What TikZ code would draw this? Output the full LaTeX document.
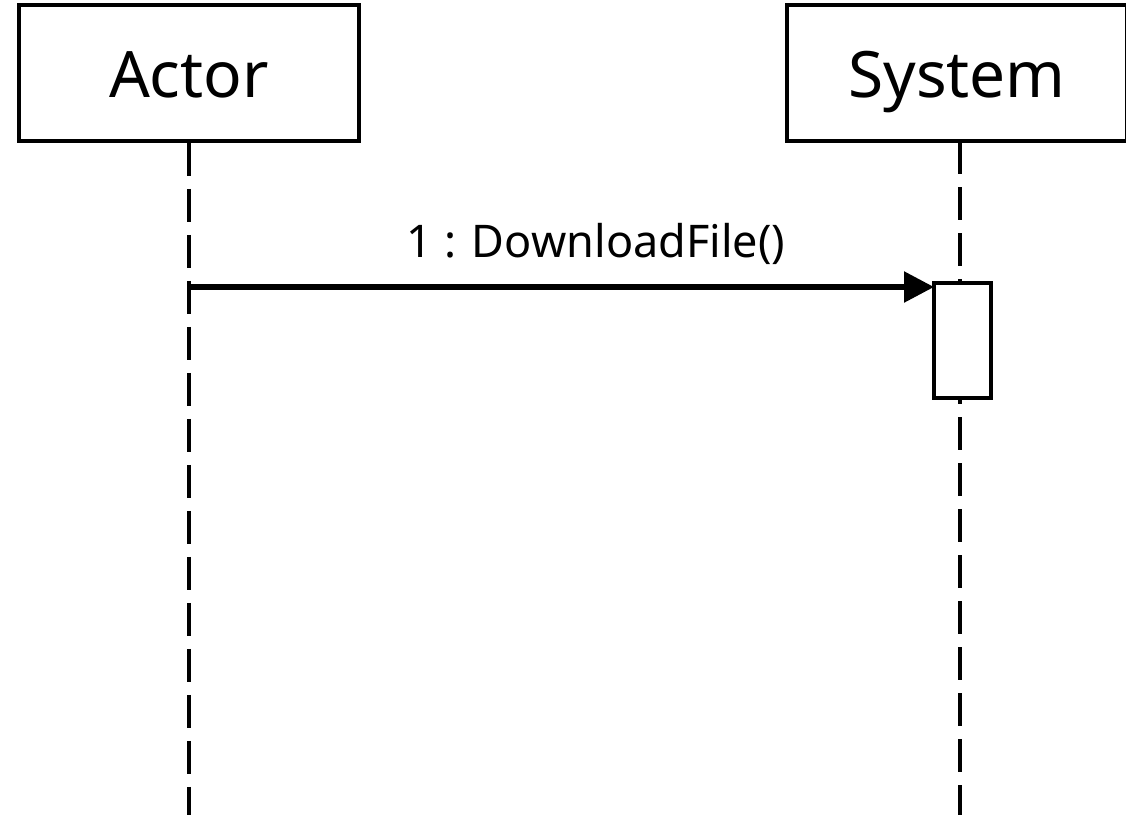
\documentclass[tikz,border=0pt]{standalone}
\usepackage{fontspec}
\setmainfont{Noto Sans}
\usetikzlibrary{arrows.meta}
\tikzset{
  headbox/.style={draw=black, line width=3.5pt, fill=white, minimum width=340pt, minimum height=136pt, inner sep=0pt, text height=48pt, text depth=0pt, font=\fontsize{64}{70}\selectfont},
  lifeline/.style={draw=black, line width=4.5pt, dash pattern=on 33pt off 13pt},
  actbox/.style={draw=black, line width=3.5pt, fill=white, minimum width=57pt, minimum height=115pt, inner sep=0pt},
  msg/.style={draw=black, line width=5.5pt, -{Triangle[length=30pt,width=30pt]}},
  msglabel/.style={font=\fontsize{45}{50}\selectfont, inner sep=0pt, anchor=base}
}
\begin{document}
\begin{tikzpicture}[x=1pt,y=-1pt]
\useasboundingbox (0,0) rectangle (1126,815);
\node[headbox] (actor) at (189,73) {Actor};
\node[headbox] (system) at (957,73) {System};
\coordinate (aend) at (189,815);
\coordinate (stop) at (960,141);
\coordinate (send) at (960,815);
\draw[lifeline] (actor.south) -- (aend);
\draw[lifeline] (stop) -- (send);
\node[actbox] (act) at (962.5,340.5) {};
\coordinate (m1s) at (189,287);
\coordinate (m1e) at (934,287);
\draw[msg] (m1s) -- (m1e);
\node[msglabel] (lbl) at (596,257) {1 : DownloadFile()};
\end{tikzpicture}
\end{document}
